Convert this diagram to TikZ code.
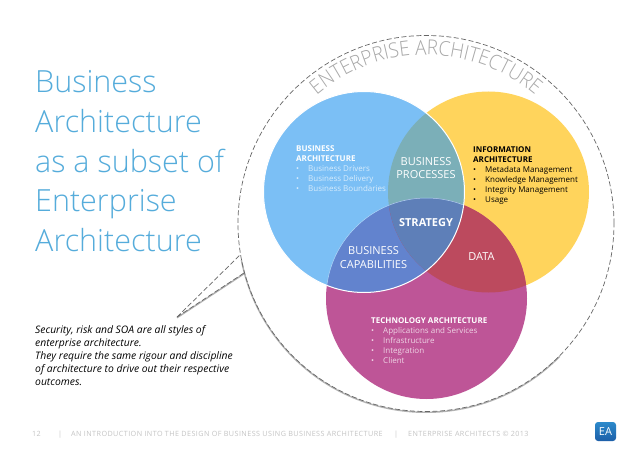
\documentclass[tikz,border=0pt]{standalone}
\usepackage{fontspec}
\setmainfont{Open Sans}
\newfontfamily\lightfont{Open Sans Light}
\newfontfamily\archfont[FakeStretch=0.92]{Open Sans Light}
\usetikzlibrary{decorations.text}
\definecolor{cblue}{HTML}{7BBFF5}
\definecolor{cyellow}{HTML}{FFD45C}
\definecolor{cmag}{HTML}{BE5597}
\definecolor{cby}{HTML}{7BAFB8}
\definecolor{cbm}{HTML}{6283CE}
\definecolor{cym}{HTML}{BC4A5E}
\definecolor{cbym}{HTML}{5E7FB8}
\definecolor{ctitle}{HTML}{55ACDB}
\definecolor{cfoot}{HTML}{C4C4C4}
\definecolor{cea}{HTML}{A8A8A8}
\definecolor{clogoa}{HTML}{2C8ACB}
\definecolor{clogob}{HTML}{1D5FA8}
\newfontfamily\footfont[LetterSpace=6]{Open Sans}
\newcommand{\blt}[1]{\makebox[12pt][l]{\textbullet}#1}
\tikzset{
  x=1pt,y=1pt,
  titletext/.style={anchor=base west,inner sep=0,text=ctitle,font=\lightfont\fontsize{30.5}{30.5}\selectfont},
  listtext/.style={anchor=north west,inner sep=0,align=left,font=\fontsize{8}{10}\selectfont},
  lens/.style={align=center,inner sep=0,text=white,font=\fontsize{11}{13.5}\selectfont},
  foot/.style={anchor=base west,inner sep=0,text=cfoot,font=\footfont\fontsize{7.2}{8}\selectfont},
  dashline/.style={draw=black!60,line width=0.7pt,dash pattern=on 5pt off 2.5pt},
}
\begin{document}
\begin{tikzpicture}
\useasboundingbox (0,-452) rectangle (638,0);
\fill[white] (0,-452) rectangle (638,0);
% titles
\node[titletext] (t1) at (35,-93) {Business};
\node[titletext] (t2) at (35,-132.5) {Architecture};
\node[titletext] (t3) at (35,-172) {as a subset of};
\node[titletext] (t4) at (35,-211.5) {Enterprise};
\node[titletext] (t5) at (35,-251) {Architecture};
% outer circle shadow
\begin{scope}
\clip (230,-260) rectangle (560,-420);
\draw[black!30,line width=1.4pt] (426,-224.3) circle (188);
\end{scope}
\draw[dashline] (426,-223.5) circle (188);
% callout
\coordinate (tip) at (177,-317);
\coordinate (ca) at (240,-255);
\coordinate (cb) at (244,-273);
\draw[black!30,line width=1.4pt] ([yshift=-0.8pt]tip) -- ([yshift=-0.8pt]cb);
\draw[dashline] (tip) -- (ca);
\draw[dashline] (tip) -- (cb);
% Venn
\fill[cyellow] (488.5,-192) circle (100.5);
\fill[cmag] (426.5,-298.5) circle (100.5);
\fill[cblue] (364,-192) circle (100.5);
\begin{scope}
\clip (364,-192) circle (100.5);
\fill[cby] (488.5,-192) circle (100.5);
\fill[cbm] (426.5,-298.5) circle (100.5);
\end{scope}
\begin{scope}
\clip (488.5,-192) circle (100.5);
\fill[cym] (426.5,-298.5) circle (100.5);
\end{scope}
\begin{scope}
\clip (364,-192) circle (100.5);
\clip (488.5,-192) circle (100.5);
\fill[cbym] (426.5,-298.5) circle (100.5);
\end{scope}
\draw[white,line width=1pt] (364,-192) circle (100.5);
\begin{scope}
\clip (364,-192) circle (100.5);
\draw[cblue!60!white,line width=0.5pt] (426.5,-298.5) circle (100.5);
\end{scope}
% Curved heading
\path[postaction={decorate,decoration={text along path,text align=center,
  text={|\archfont\fontsize{20.5}{20.5}\selectfont\color{cea}|ENTERPRISE ARCHITECTURE}}}]
  (426,-223.5) ++(145:168.5) arc (145:35:168.5);
% lists
\node[listtext,text=white] (ba) at (296,-146) {\textbf{BUSINESS}\\\textbf{ARCHITECTURE}\\\textcolor{white!70!cblue}{\blt{Business Drivers}}\\\textcolor{white!70!cblue}{\blt{Business Delivery}}\\\textcolor{white!70!cblue}{\blt{Business Boundaries}}};
\node[listtext,text=black] (ia) at (473,-146) {\textbf{INFORMATION}\\\textbf{ARCHITECTURE}\\\blt{Metadata Management}\\\blt{Knowledge Management}\\\blt{Integrity Management}\\\blt{Usage}};
\node[listtext,text=white] (ta) at (371,-317) {\textbf{TECHNOLOGY ARCHITECTURE}\\\textcolor{white!75!cmag}{\blt{Applications and Services}}\\\textcolor{white!75!cmag}{\blt{Infrastructure}}\\\textcolor{white!75!cmag}{\blt{Integration}}\\\textcolor{white!75!cmag}{\blt{Client}}};
% lens labels
\node[lens] (bp) at (426,-168) {BUSINESS\\PROCESSES};
\node[lens,font=\bfseries\fontsize{11}{13}\selectfont] (st) at (426,-222.5) {STRATEGY};
\node[lens] (bc) at (373.5,-257.5) {BUSINESS\\CAPABILITIES};
\node[lens] (da) at (481.5,-257) {DATA};
% note
\node[anchor=north west,inner sep=0,align=left,font=\itshape\fontsize{10.35}{13}\selectfont] (note) at (35,-325) {Security, risk and SOA are all styles of\\enterprise architecture.\\They require the same rigour and discipline\\of architecture to drive out their respective\\outcomes.};
% footer
\node[foot] (f1) at (32,-436) {12};
\node[foot] (f2) at (58,-436) {|};
\node[foot] (f3) at (71,-436) {AN INTRODUCTION INTO THE DESIGN OF BUSINESS USING BUSINESS ARCHITECTURE};
\node[foot] (f4) at (394,-436) {|};
\node[foot] (f5) at (408,-436) {ENTERPRISE ARCHITECTS © 2013};
% logo
\node[draw=none,rounded corners=3pt,minimum width=21pt,minimum height=19pt,inner sep=0,
  top color=clogoa,bottom color=clogob,
  text=white,font=\fontsize{11}{11}\selectfont] (logo) at (605.5,-431.5) {EA};
\end{tikzpicture}
\end{document}
